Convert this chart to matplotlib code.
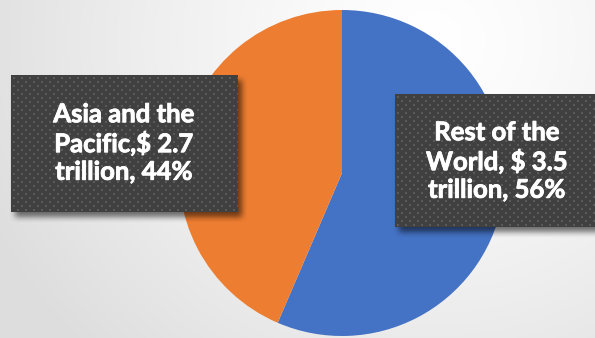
import matplotlib.pyplot as plt
import matplotlib.patheffects as pe
import numpy as np

# Dados do gráfico (trilhões de dólares)
regioes = ["Rest of the World", "Asia and the Pacific"]
valores = [3.5, 2.7]
cores = ["#4472C4", "#ED7D31"]
# quebras de linha dos rótulos como aparecem nas caixas
rotulos = ["Rest of the\nWorld, $ {v}\ntrillion, {p}%",
           "Asia and the\nPacific,$ {v}\ntrillion, {p}%"]

W, H = 595, 338


def hexrgb(c):
    c = c.lstrip("#")
    return np.array([int(c[i:i + 2], 16) / 255 for i in (0, 2, 4)])


def fundoRadial():
    yy, xx = np.mgrid[0:H, 0:W]
    d = np.sqrt((xx - 430) ** 2 + ((yy - 40) * 1.1) ** 2)
    t = np.clip(d / 480, 0, 1) ** 1.3
    claro = 1.0
    escuro = 0.87
    v = claro + (escuro - claro) * t
    return np.dstack([v, v, v])


def padraoPontos(w, h):
    img = np.ones((h, w, 3)) * hexrgb("#404040")
    ponto = hexrgb("#5a5a5a")
    for y in range(2, h, 4):
        desl = 0 if (y // 4) % 2 == 0 else 4
        for x in range(2 + desl, w, 8):
            img[y:y + 2, x:x + 2] = ponto
    return img


def borrar(a, r):
    k = np.ones(2 * r + 1) / (2 * r + 1)
    for _ in range(2):
        a = np.apply_along_axis(lambda m: np.convolve(m, k, mode="same"), 0, a)
        a = np.apply_along_axis(lambda m: np.convolve(m, k, mode="same"), 1, a)
    return a


def sombra(ax, x0, y0, x1, y1, dx=4, dy=5, r=3):
    pad = 12
    w = int(x1 - x0) + 2 * pad
    h = int(y1 - y0) + 2 * pad
    a = np.zeros((h, w))
    a[pad:h - pad, pad:w - pad] = 1.0
    a = borrar(a, r) * 0.55
    img = np.zeros((h, w, 4))
    img[..., 3] = a
    ax.imshow(img, extent=(x0 - pad + dx, x1 + pad + dx, y1 + pad + dy, y0 - pad + dy),
              interpolation="bilinear", zorder=2)


fig = plt.figure(figsize=(W / 100, H / 100), dpi=100)

fundo = fig.add_axes([0, 0, 1, 1])
fundo.imshow(fundoRadial(), extent=(0, W, H, 0), interpolation="bilinear")
fundo.set_xlim(0, W)
fundo.set_ylim(H, 0)
fundo.axis("off")

# pizza: centro (342, 173), raio 163 px
cx, cy, r = 342, 173, 163
axPizza = fig.add_axes([(cx - r) / W, (H - cy - r) / H, 2 * r / W, 2 * r / H])
axPizza.pie(valores, colors=cores, startangle=90, counterclock=False,
            wedgeprops=dict(linewidth=0))
axPizza.set_xlim(-1, 1)
axPizza.set_ylim(-1, 1)
axPizza.set_aspect("auto")
axPizza.axis("off")

# camada de cima com as caixas de rótulo
topo = fig.add_axes([0, 0, 1, 1])
topo.set_xlim(0, W)
topo.set_ylim(H, 0)
topo.patch.set_alpha(0)
topo.axis("off")

caixas = [(395, 94, 600, 227), (11, 75, 238, 212)]
centros = [(497, 161), (124, 143)]
total = sum(valores)
for i in range(len(valores)):
    x0, y0, x1, y1 = caixas[i]
    sombra(topo, x0, y0, x1, y1)
    topo.imshow(padraoPontos(x1 - x0, y1 - y0), extent=(x0, x1, y1, y0),
                interpolation="nearest", zorder=3)
    pct = round(valores[i] / total * 100)
    texto = rotulos[i].format(v=valores[i], p=pct)
    topo.text(centros[i][0], centros[i][1], texto, ha="center", va="center",
              color="white", fontsize=18.5, fontweight="bold", family="Lato",
              linespacing=1.18, zorder=4,
              path_effects=[pe.withStroke(linewidth=0.6, foreground="white")])

topo.set_xlim(0, W)
topo.set_ylim(H, 0)

fig.savefig("out.png", dpi=100)
